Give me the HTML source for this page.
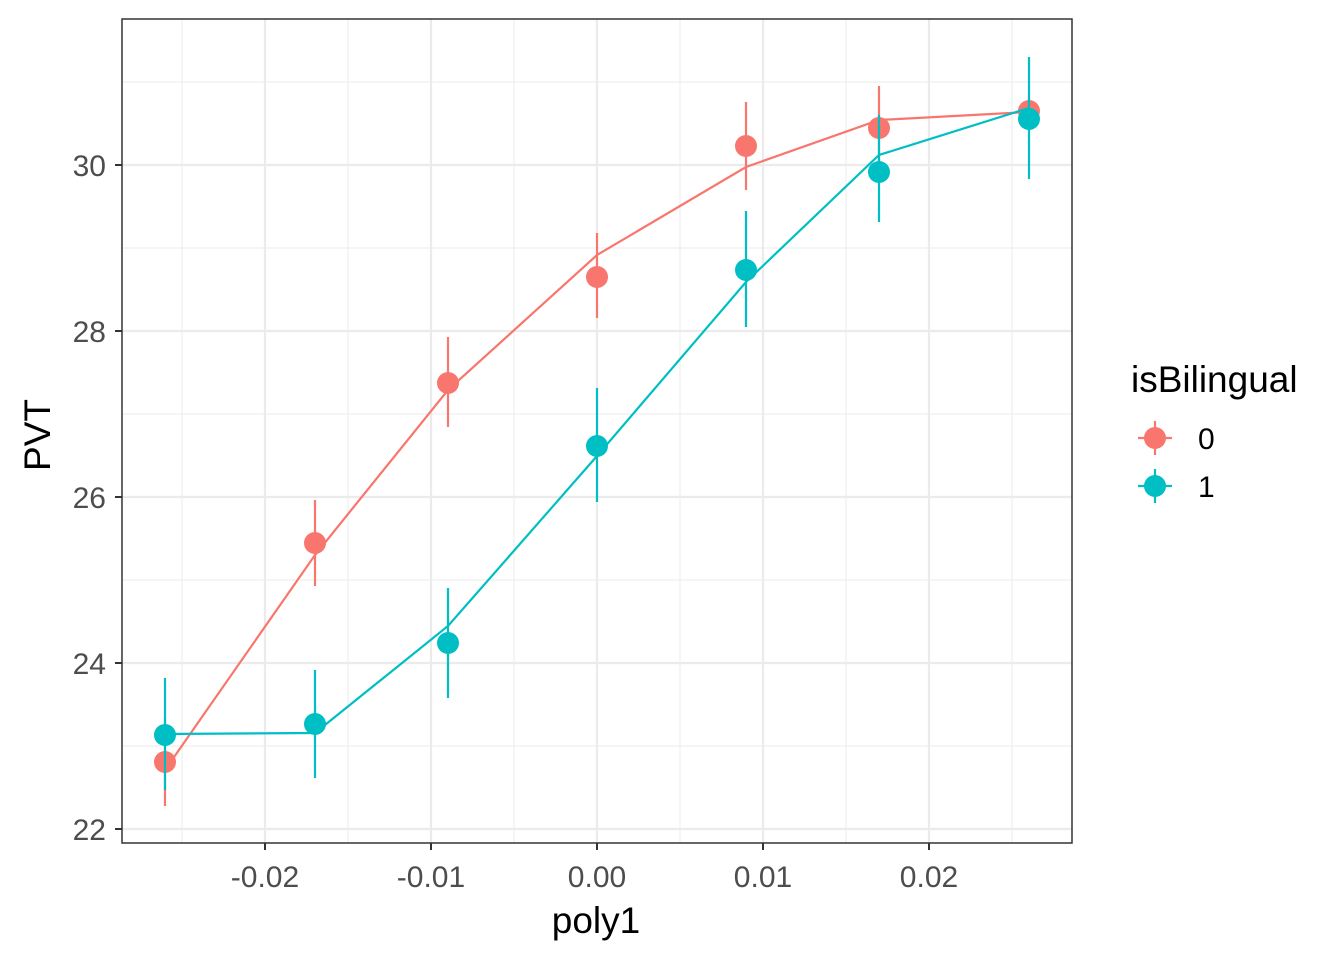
<!DOCTYPE html>
<html><head><style>body{margin:0;background:#fff}svg{display:block}</style></head><body>
<svg width="1344" height="960" xmlns="http://www.w3.org/2000/svg" font-family="Liberation Sans, sans-serif">
<rect x="122" y="19" width="950" height="824" fill="#fff"/>
<g stroke="#ebebeb" stroke-width="1">
<line x1="122" x2="1072" y1="82" y2="82"/><line x1="122" x2="1072" y1="248" y2="248"/><line x1="122" x2="1072" y1="414" y2="414"/><line x1="122" x2="1072" y1="580" y2="580"/><line x1="122" x2="1072" y1="746" y2="746"/>
<line y1="19" y2="843" x1="182" x2="182"/><line y1="19" y2="843" x1="348" x2="348"/><line y1="19" y2="843" x1="514" x2="514"/><line y1="19" y2="843" x1="680" x2="680"/><line y1="19" y2="843" x1="846" x2="846"/><line y1="19" y2="843" x1="1012" x2="1012"/>
</g>
<g stroke="#ebebeb" stroke-width="2.2">
<line x1="122" x2="1072" y1="165" y2="165"/><line x1="122" x2="1072" y1="331" y2="331"/><line x1="122" x2="1072" y1="497" y2="497"/><line x1="122" x2="1072" y1="663" y2="663"/><line x1="122" x2="1072" y1="829" y2="829"/>
<line y1="19" y2="843" x1="265" x2="265"/><line y1="19" y2="843" x1="431" x2="431"/><line y1="19" y2="843" x1="597" x2="597"/><line y1="19" y2="843" x1="763" x2="763"/><line y1="19" y2="843" x1="929" x2="929"/>
</g>
<g stroke="#F8766D" stroke-width="2.2" fill="none">
<polyline points="165,770 315,555 448,390 597,255 746,167 879,120 1029,112"/>
<line x1="165" x2="165" y1="718" y2="806"/><line x1="315" x2="315" y1="500" y2="586"/><line x1="448" x2="448" y1="337" y2="427"/><line x1="597" x2="597" y1="233" y2="318"/><line x1="746" x2="746" y1="102" y2="190"/><line x1="879" x2="879" y1="86" y2="170"/><line x1="1029" x2="1029" y1="95" y2="127"/>
</g>
<g fill="#F8766D"><circle cx="165" cy="762" r="11"/><circle cx="315" cy="543" r="11"/><circle cx="448" cy="383" r="11"/><circle cx="597" cy="277" r="11"/><circle cx="746" cy="146" r="11"/><circle cx="879" cy="128" r="11"/><circle cx="1029" cy="111" r="11"/></g>
<g stroke="#00BFC4" stroke-width="2.2" fill="none">
<polyline points="165,734 315,733 448,626 597,456 746,282 879,155 1029,108"/>
<line x1="165" x2="165" y1="678" y2="790"/><line x1="315" x2="315" y1="670" y2="778"/><line x1="448" x2="448" y1="588" y2="698"/><line x1="597" x2="597" y1="388" y2="502"/><line x1="746" x2="746" y1="211" y2="327"/><line x1="879" x2="879" y1="115" y2="222"/><line x1="1029" x2="1029" y1="57" y2="179"/>
</g>
<g fill="#00BFC4"><circle cx="165" cy="735" r="11"/><circle cx="315" cy="724" r="11"/><circle cx="448" cy="643" r="11"/><circle cx="597" cy="446" r="11"/><circle cx="746" cy="270" r="11"/><circle cx="879" cy="172" r="11"/><circle cx="1029" cy="119" r="11"/></g>
<rect x="122" y="19" width="950" height="824" fill="none" stroke="#333" stroke-width="1.5"/>
<g stroke="#333" stroke-width="2"><line x1="115" x2="122" y1="165" y2="165"/><line x1="115" x2="122" y1="331" y2="331"/><line x1="115" x2="122" y1="497" y2="497"/><line x1="115" x2="122" y1="663" y2="663"/><line x1="115" x2="122" y1="829" y2="829"/>
<line y1="843" y2="850" x1="265" x2="265"/><line y1="843" y2="850" x1="431" x2="431"/><line y1="843" y2="850" x1="597" x2="597"/><line y1="843" y2="850" x1="763" x2="763"/><line y1="843" y2="850" x1="929" x2="929"/></g>
<g font-size="30" fill="#4d4d4d" text-anchor="end"><text x="106" y="176">30</text><text x="106" y="342">28</text><text x="106" y="508">26</text><text x="106" y="674">24</text><text x="106" y="840">22</text></g>
<g font-size="30" fill="#4d4d4d" text-anchor="middle"><text x="265" y="887">-0.02</text><text x="431" y="887">-0.01</text><text x="597" y="887">0.00</text><text x="763" y="887">0.01</text><text x="929" y="887">0.02</text></g>
<text x="596" y="933" font-size="37" text-anchor="middle">poly1</text>
<text transform="translate(50,435) rotate(-90)" font-size="37" text-anchor="middle">PVT</text>
<text x="1131" y="392" font-size="37">isBilingual</text>
<line x1="1138" x2="1172" y1="438" y2="438" stroke="#F8766D" stroke-width="2.2"/><line x1="1155" x2="1155" y1="421" y2="455" stroke="#F8766D" stroke-width="2.2"/><circle cx="1155" cy="438" r="11" fill="#F8766D"/>
<line x1="1138" x2="1172" y1="486" y2="486" stroke="#00BFC4" stroke-width="2.2"/><line x1="1155" x2="1155" y1="469" y2="503" stroke="#00BFC4" stroke-width="2.2"/><circle cx="1155" cy="486" r="11" fill="#00BFC4"/>
<text x="1198" y="449" font-size="30">0</text><text x="1198" y="497" font-size="30">1</text>
</svg>
</body></html>
